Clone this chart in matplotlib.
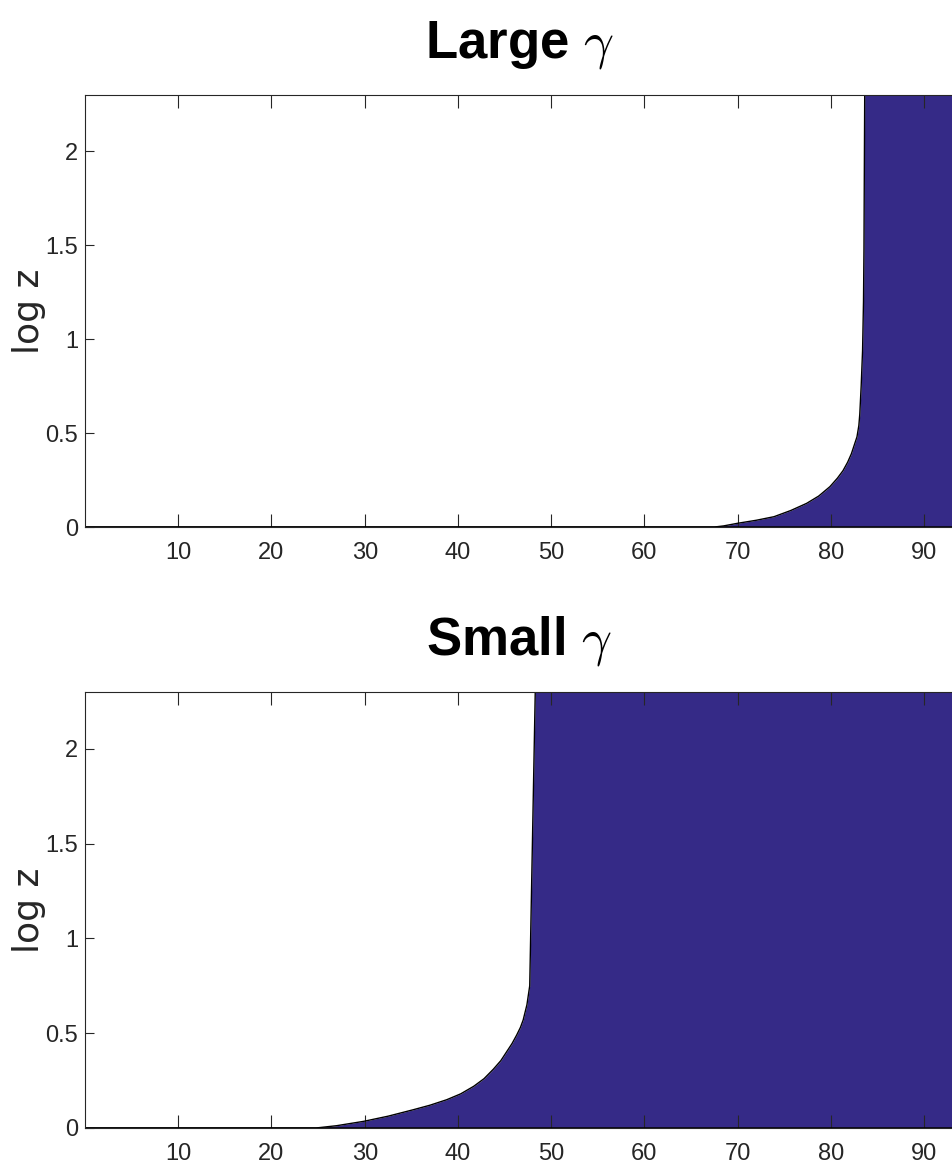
# Two panels: log z against position for large and small gamma

import matplotlib.pyplot as plt

large_x = [0, 67.5, 68.5, 70, 72, 73.9, 75.7, 77.4, 78.7, 79.9, 80.7, 81.3, 81.8, 82.2,
           82.5, 82.8, 83.0, 83.1, 83.25, 83.4, 83.5, 83.55, 83.6, 83.65, 94]
large_y = [0, 0, 0.006, 0.02, 0.036, 0.055, 0.088, 0.126, 0.165, 0.215, 0.26, 0.30, 0.345, 0.39,
           0.435, 0.48, 0.54, 0.60, 0.75, 0.94, 1.2, 1.48, 2.01, 2.5, 2.5]

small_x = [0, 24.8, 27, 29.9, 32.5, 35.2, 37, 38.8, 40.3, 41.7, 42.8, 43.8, 44.6, 45.2,
           45.8, 46.3, 46.7, 47.0, 47.4, 47.7, 48.3, 48.35, 94]
small_y = [0, 0, 0.012, 0.035, 0.062, 0.096, 0.12, 0.149, 0.18, 0.22, 0.26, 0.31, 0.355, 0.40,
           0.445, 0.49, 0.53, 0.57, 0.65, 0.75, 2.32, 2.5, 2.5]

titles = ['Large $\\gamma$', 'Small $\\gamma$']
xticks = [10, 20, 30, 40, 50, 60, 70, 80, 90]
yticks = [0, 0.5, 1, 1.5, 2]
ytick_labels = ['0', '0.5', '1', '1.5', '2']

fill_color = '#352a87'
axis_color = '#262626'
helv = ['Liberation Sans', 'DejaVu Sans']

plt.rcParams['mathtext.fontset'] = 'cm'

fig = plt.figure(figsize=(9.53, 11.73), dpi=100)
positions = [[0.0892, 0.5507, 0.9108, 0.3683], [0.0892, 0.0384, 0.9108, 0.3717]]

for pos, title, xs, ys in zip(positions, titles, [large_x, small_x], [large_y, small_y]):
    ax = fig.add_axes(pos)
    ax.fill_between(xs, 0, ys, color=fill_color, linewidth=0)
    ax.plot(xs, ys, color='black', lw=1.0)
    ax.axhline(0, color='black', lw=1.8)
    ax.set_xlim(0, 93.1)
    ax.set_ylim(0, 2.3)

    ax.set_xticks(xticks)
    ax.set_yticks(yticks)
    ax.set_yticklabels(ytick_labels)
    ax.tick_params(axis='x', direction='in', top=True, length=9.5, width=0.8,
                   color=axis_color, labelcolor=axis_color, labelsize=17, pad=11)
    ax.tick_params(axis='y', direction='in', right=False, length=6.5, width=0.8,
                   color=axis_color, labelcolor=axis_color, labelsize=17, pad=5)
    for lab in ax.get_xticklabels() + ax.get_yticklabels():
        lab.set_family(helv)

    ax.spines['right'].set_visible(False)
    for s in ['left', 'top', 'bottom']:
        ax.spines[s].set_color(axis_color)
        ax.spines[s].set_linewidth(0.8)

    ax.set_ylabel('log z', fontsize=26, color=axis_color)
    ax.yaxis.set_label_coords(-0.045, 0.5)
    ax.set_title(title, fontsize=38, fontweight='bold', family=helv, pad=27)

fig.savefig('out.png', dpi=100)
